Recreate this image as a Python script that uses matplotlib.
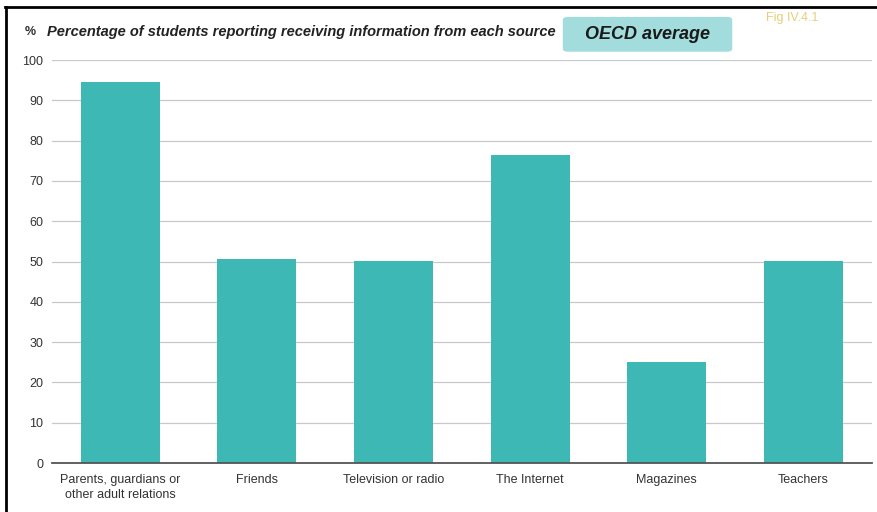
import matplotlib.pyplot as plt
from matplotlib.lines import Line2D
from matplotlib.patches import FancyBboxPatch

plt.rcParams['font.family'] = ['Liberation Sans Narrow', 'Liberation Sans', 'DejaVu Sans']

# Data
sources = ['Parents, guardians or\nother adult relations', 'Friends', 'Television or radio',
           'The Internet', 'Magazines', 'Teachers']
pct = [94.5, 50.6, 50.1, 76.5, 25.1, 50.1]
yticks = list(range(0, 101, 10))

fig = plt.figure(figsize=(8.78, 5.12), dpi=100)
ax = fig.add_axes([0.059, 0.0957, 0.934, 0.787])

ax.bar(range(len(sources)), pct, width=0.58, color='#3db8b4', zorder=3)
ax.set_xlim(-0.5, 5.5)
ax.set_ylim(0, 100)
ax.set_yticks(yticks)
ax.set_xticks(range(len(sources)))
ax.set_xticklabels(sources, fontsize=9, color='#333333', linespacing=1.3)
ax.tick_params(axis='y', length=0, labelsize=9, labelcolor='#333333', pad=6)
ax.tick_params(axis='x', length=0, pad=8)
ax.grid(axis='y', color='#c8c8c8', linewidth=0.9, zorder=0)
for s in ['top', 'right', 'left']:
    ax.spines[s].set_visible(False)
ax.spines['bottom'].set_color('#555555')
ax.spines['bottom'].set_linewidth(1.3)
ax.spines['bottom'].set_zorder(4)

# Header texts
fig.text(0.028, 0.937, '%', fontsize=9, fontweight='bold', color='#333333', va='center')
fig.text(0.053, 0.937, 'Percentage of students reporting receiving information from each source',
         fontsize=10.5, fontweight='bold', style='italic', color='#222222', va='center')
box = FancyBboxPatch((0.641, 0.899), 0.193, 0.068, boxstyle='round,pad=0,rounding_size=0.006',
                     transform=fig.transFigure, facecolor='#a2dcdc', edgecolor='none')
fig.add_artist(box)
fig.text(0.737, 0.933, 'OECD average', fontsize=13, fontweight='bold', style='italic',
         color='#1a1a1a', ha='center', va='center')
fig.text(0.872, 0.965, 'Fig IV.4.1', fontsize=9, color='#e6cf78', va='center')

# Frame lines at top and left
fig.add_artist(Line2D([0.006, 1.0], [0.987, 0.987], transform=fig.transFigure, color='black', linewidth=2))
fig.add_artist(Line2D([0.007, 0.007], [0.0, 0.987], transform=fig.transFigure, color='black', linewidth=2))

fig.savefig('out.png', dpi=100)
